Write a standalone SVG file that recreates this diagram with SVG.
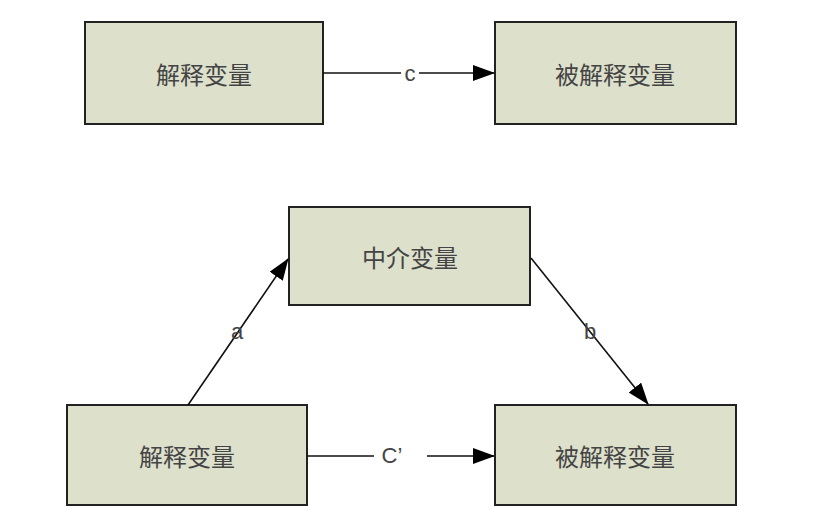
<svg xmlns="http://www.w3.org/2000/svg" width="827" height="528" viewBox="0 0 827 528">
<style>
.box{fill:#dde0cb;stroke:#222;stroke-width:2}
.t{font-family:"Noto Sans CJK SC",sans-serif;font-size:24px;fill:#444;text-anchor:middle;dominant-baseline:central}
.l{font-family:"Liberation Sans",sans-serif;font-size:22px;fill:#444;text-anchor:middle;dominant-baseline:central}
.c{stroke:#111;stroke-width:1.6;fill:none}
</style>
<defs><marker id="ar" markerWidth="22" markerHeight="16" refX="21" refY="8" orient="auto" markerUnits="userSpaceOnUse"><path d="M0,0L22,8L0,16z" fill="#000"/></marker></defs>
<rect width="827" height="528" fill="#fff"/>
<g id="n1"><rect class="box" x="85" y="22" width="238" height="102"/><text class="t" x="204" y="73">解释变量</text></g>
<g id="n2"><rect class="box" x="495" y="22" width="241" height="102"/><text class="t" x="615" y="73">被解释变量</text></g>
<g id="n3"><rect class="box" x="289" y="207" width="241" height="98"/><text class="t" x="410" y="256">中介变量</text></g>
<g id="n4"><rect class="box" x="67" y="405" width="240" height="100"/><text class="t" x="187" y="455">解释变量</text></g>
<g id="n5"><rect class="box" x="495" y="405" width="241" height="100"/><text class="t" x="615" y="455">被解释变量</text></g>
<g id="edges">
<line class="c" x1="323" y1="73" x2="494" y2="73" marker-end="url(#ar)"/>
<rect x="401" y="62" width="18" height="22" fill="#fff"/>
<text class="l" x="410" y="73">c</text>
<line class="c" x1="188" y1="405" x2="288" y2="259" marker-end="url(#ar)"/>
<text class="l" x="237" y="331">a</text>
<line class="c" x1="531" y1="258" x2="648" y2="404" marker-end="url(#ar)"/>
<text class="l" x="590" y="331">b</text>
<line class="c" x1="307" y1="456" x2="374" y2="456"/>
<line class="c" x1="427" y1="456" x2="494" y2="456" marker-end="url(#ar)"/>
<text class="l" x="392" y="455">C’</text>
</g>
</svg>
